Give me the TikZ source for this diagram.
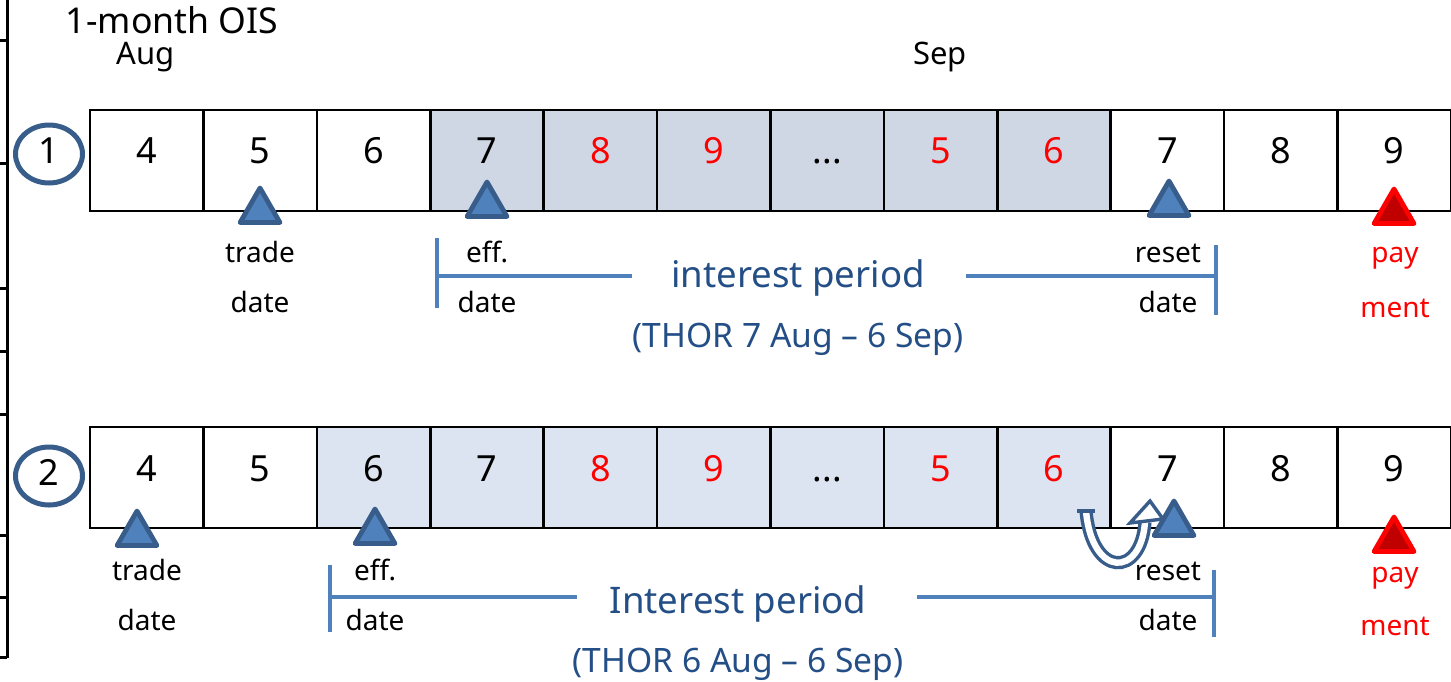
\documentclass[tikz,border=0pt]{standalone}
\usepackage{fontspec}
\setmainfont{Noto Sans}
\usetikzlibrary{shapes.geometric}
\definecolor{cellA}{HTML}{CFD6E4}
\definecolor{cellB}{HTML}{DCE4F1}
\definecolor{triFill}{HTML}{4F81BD}
\definecolor{triLine}{HTML}{385D8A}
\definecolor{brk}{HTML}{4F81BD}
\definecolor{lblue}{HTML}{234E86}
\definecolor{payred}{HTML}{FF0000}
\definecolor{payfill}{HTML}{C00000}
\newcommand\mydots{\textbf{.\kern0.3pt.\kern0.3pt.}}
\begin{document}
\begin{tikzpicture}[x=0.5pt,y=-0.5pt,
  cell/.style={draw=black, line width=1.3pt, minimum width=56.7pt, minimum height=50.5pt, inner sep=0pt, anchor=center},
  num/.style={anchor=base, inner sep=0pt, font=\fontsize{18}{20}\selectfont},
  lbl/.style={anchor=base, inner sep=0pt, font=\fontsize{14}{16}\selectfont},
  paylbl/.style={lbl, text=payred},
  period/.style={anchor=base, inner sep=0pt, text=lblue, font=\fontsize{18.3}{20}\selectfont},
  thor/.style={anchor=base, inner sep=0pt, text=lblue, font=\fontsize{16.8}{18}\selectfont},
  marker/.style={regular polygon, regular polygon sides=3, draw=triLine, fill=triFill, line width=2.4pt, line join=round, minimum size=23pt, inner sep=0pt},
  paymarker/.style={marker, draw=payred, fill=payfill},
  rowid/.style={ellipse, draw=triLine, line width=2.5pt, minimum width=33.5pt, minimum height=29pt, inner sep=0pt},
  brline/.style={draw=brk, line width=2pt},
  tick/.style={line width=1.5pt}
]
\useasboundingbox (0,0) rectangle (1451,681);

% left ruler
\coordinate (rt) at (7,0);
\coordinate (rb) at (7,658);
\draw[tick] (rt) -- (rb);
\foreach \yy in {40,163,288,351,414,535,597,657}{
  \draw[tick] (0,\yy) -- (7,\yy);
}

% titles
\node[anchor=base, inner sep=0pt, font=\fontsize{17.8}{20}\selectfont] (title) at (172,33) {1-month OIS};
\node[anchor=base, inner sep=0pt, font=\fontsize{15.5}{18}\selectfont] (aug) at (146,64) {Aug};
\node[anchor=base, inner sep=0pt, font=\fontsize{15.5}{18}\selectfont] (sep) at (940,64) {Sep};

% row 1
\foreach \i/\t/\c/\f in {1/4/black/white,2/5/black/white,3/6/black/white,4/7/black/cellA,5/8/payred/cellA,6/9/payred/cellA,7/\mydots/black/cellA,8/5/payred/cellA,9/6/payred/cellA,10/7/black/white,11/8/black/white,12/9/black/white}{
  \pgfmathsetmacro\cx{90+113.4*(\i-0.5)}
  \node[cell, fill=\f] (ra\i) at (\cx,160.5) {};
  \node[num, text=\c] (na\i) at (\cx,163) {\t};
}
% row 2
\foreach \i/\t/\c/\f in {1/4/black/white,2/5/black/white,3/6/black/cellB,4/7/black/cellB,5/8/payred/cellB,6/9/payred/cellB,7/\mydots/black/cellB,8/5/payred/cellB,9/6/payred/cellB,10/7/black/white,11/8/black/white,12/9/black/white}{
  \pgfmathsetmacro\cx{90+113.4*(\i-0.5)}
  \node[cell, fill=\f] (rb\i) at (\cx,477.5) {};
  \node[num, text=\c] (nb\i) at (\cx,481) {\t};
}

% row ids
\node[rowid] (id1) at (49,154) {};
\node[num] (id1t) at (49,163) {1};
\node[rowid] (id2) at (49,476) {};
\node[num] (id2t) at (49,485) {2};

% markers row 1
\node[marker] (ta1) at (260,211) {};
\node[marker] (ta2) at (487,205) {};
\node[marker] (ta3) at (1169,204) {};
\node[paymarker] (ta4) at (1394,212) {};
% markers row 2
\node[marker] (tb1) at (137,534) {};
\node[marker] (tb2) at (375,532) {};
\node[marker] (tb3) at (1174,524) {};
\node[paymarker] (tb4) at (1394,540) {};

% labels row 1
\node[lbl] (la1) at (260,262) {trade};
\node[lbl] (la2) at (260,312) {date};
\node[lbl] (la3) at (487,262) {eff.};
\node[lbl] (la4) at (487,312) {date};
\node[lbl] (la5) at (1168,262) {reset};
\node[lbl] (la6) at (1168,312) {date};
\node[paylbl] (la7) at (1395,262) {pay};
\node[paylbl] (la8) at (1395,317) {ment};
\node[period] (pa) at (798,287) {interest period};
\node[thor] (tha) at (798,347) {(THOR 7 Aug – 6 Sep)};

% labels row 2
\node[lbl] (lb1) at (147,580) {trade};
\node[lbl] (lb2) at (147,630) {date};
\node[lbl] (lb3) at (375,580) {eff.};
\node[lbl] (lb4) at (375,630) {date};
\node[lbl] (lb5) at (1168,580) {reset};
\node[lbl] (lb6) at (1168,630) {date};
\node[paylbl] (lb7) at (1395,582) {pay};
\node[paylbl] (lb8) at (1395,635) {ment};
\node[period] (pb) at (738,613) {Interest period};
\node[thor] (thb) at (738,672) {(THOR 6 Aug – 6 Sep)};

% brackets row 1
\coordinate (a1t) at (437,238);
\coordinate (a1b) at (437,308);
\coordinate (a1m) at (437,276);
\coordinate (a1e) at (632,276);
\coordinate (a2s) at (966,276);
\coordinate (a2m) at (1216,276);
\coordinate (a2t) at (1216,245);
\coordinate (a2b) at (1216,315);
\draw[brline] (a1t) -- (a1b);
\draw[brline] (a1m) -- (a1e);
\draw[brline] (a2s) -- (a2m);
\draw[brline] (a2t) -- (a2b);

% brackets row 2
\coordinate (b1t) at (330,565);
\coordinate (b1b) at (330,632);
\coordinate (b1m) at (330,597);
\coordinate (b1e) at (577,597);
\coordinate (b2s) at (917,597);
\coordinate (b2m) at (1214,597);
\coordinate (b2t) at (1214,570);
\coordinate (b2b) at (1214,637);
\draw[brline] (b1t) -- (b1b);
\draw[brline] (b1m) -- (b1e);
\draw[brline] (b2s) -- (b2m);
\draw[brline] (b2t) -- (b2b);

% U-turn arrow
\coordinate (us) at (1086,511);
\coordinate (ue) at (1145,522);
\draw[triLine, line width=1.7pt, double=white, double distance=3.2pt] (us) .. controls (1092,578) and (1141,578) .. (ue);
\draw[triLine, line width=1.7pt] (1077,511) -- (1095,511);
\draw[triLine, fill=white, line width=1.7pt, line join=miter] (1130,523) -- (1150,501) -- (1163,519) -- cycle;
\end{tikzpicture}
\end{document}
